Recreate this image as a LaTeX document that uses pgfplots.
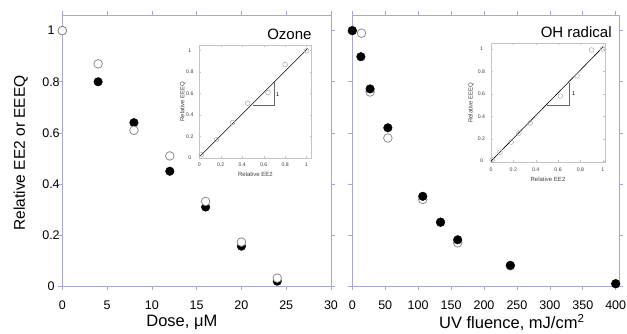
\documentclass[border=0pt]{standalone}
\usepackage{fontspec}
\setmainfont{Liberation Sans}
\usepackage{pgfplots}
\pgfplotsset{compat=1.18}
\definecolor{axc}{HTML}{A8A8D8}
\definecolor{opc}{HTML}{8C8C8C}
\definecolor{inc}{HTML}{C4C4C4}
\definecolor{inm}{HTML}{A8A8A8}
\pgfplotsset{
  mainax/.style={
    scale only axis, height=271pt, clip=false,
    ymin=0, ymax=1.06, ytick={0,0.2,0.4,0.6,0.8,1},
    axis line style={axc, line width=0.6pt},
    tick style={axc, line width=0.6pt},
    major tick length=4pt, tick align=outside, tick pos=both,
    xticklabel pos=lower, yticklabel pos=left,
    /pgf/number format/assume math mode=true,
    ticklabel style={font=\fontsize{12.5}{14}\selectfont, text=black},
    xticklabel style={anchor=center, yshift=-14.7pt},
    yticklabel style={anchor=center, xshift=-7.3pt},
  },
  fil/.style={only marks, mark=*, mark size=4.3pt, mark options={fill=black, draw=black}},
  opn/.style={only marks, mark=*, mark size=4.3pt, mark options={fill=white, draw=opc, line width=0.8pt}},
  inset/.style={
    scale only axis, xmin=0, ymin=0,
    xtick={0,0.2,0.4,0.6,0.8,1}, ytick={0,0.2,0.4,0.6,0.8,1},
    tick align=inside, tick pos=both, xticklabel pos=lower, yticklabel pos=left,
    axis line style={inc, line width=0.5pt},
    tick style={inc, line width=0.4pt}, major tick length=2pt,
    /pgf/number format/assume math mode=true,
    ticklabel style={font=\fontsize{5.2}{6}\selectfont, text=black!75},
    xticklabel style={anchor=center, yshift=-7pt},
    yticklabel style={anchor=center, xshift=-9.5pt},
    label style={font=\fontsize{6}{7}\selectfont, text=black!75},
  },
  imk/.style={only marks, mark=o, mark size=2.4pt, mark options={draw=inm, line width=0.5pt}},
}
\begin{document}
\begin{tikzpicture}
\useasboundingbox (0,0) rectangle (627pt,334pt);
% ---------- left panel: Ozone ----------
\begin{axis}[mainax, at={(62.3pt,47.7pt)}, anchor=south west, width=268.7pt,
  xmin=0, xmax=30, xtick={0,5,10,15,20,25,30},
  xlabel={Dose, μM}, ylabel={Relative EE2 or EEEQ},
  xlabel style={at={(axis description cs:0.445,-0.135)}, anchor=center, font=\fontsize{16.5}{18}\selectfont},
  ylabel style={at={(axis description cs:-0.155,0.492)}, anchor=center, font=\fontsize{15.5}{17}\selectfont}]
\addplot[fil] coordinates {(0,1) (4,0.80) (8,0.64) (12,0.45) (16,0.31) (20,0.157) (24,0.02)};
\addplot[opn] coordinates {(0,1) (4,0.87) (8,0.61) (12,0.51) (16,0.332) (20,0.173) (24,0.032)};
\node[anchor=east, inner sep=0pt, font=\fontsize{15}{17}\selectfont] at (axis description cs:0.928,0.931) {Ozone};
\end{axis}
% ---------- right panel: OH radical ----------
\begin{axis}[mainax, at={(352.3pt,47.7pt)}, anchor=south west, width=266.7pt,
  xmin=0, xmax=405, xtick={0,50,100,150,200,250,300,350,400},
  yticklabels={},
  xlabel={UV fluence, mJ/cm\textsuperscript{2}},
  xlabel style={at={(axis description cs:0.598,-0.135)}, anchor=center, font=\fontsize{16.5}{18}\selectfont}]
\addplot[opn] coordinates {(0,1) (14,0.99) (27,0.76) (54,0.58) (107,0.34) (134,0.25) (160,0.17) (240,0.08) (400,0.01)};
\addplot[fil] coordinates {(0,1) (13,0.898) (27,0.772) (54,0.62) (107,0.352) (134,0.251) (160,0.182) (240,0.082) (400,0.01)};
\node[anchor=east, inner sep=0pt, font=\fontsize{15}{17}\selectfont] at (axis description cs:0.973,0.939) {OH radical};
\end{axis}
% ---------- inset Ozone ----------
\begin{axis}[inset, at={(199.3pt,176pt)}, anchor=south west, width=112.4pt, height=113pt,
  xmax=1.047, ymax=1.053,
  xlabel={Relative EE2}, ylabel={Relative EEEQ},
  xlabel style={at={(axis description cs:0.5,-0.142)}, anchor=center},
  ylabel style={at={(axis description cs:-0.148,0.5)}, anchor=center}]
\addplot[imk] coordinates {(1,1) (0.80,0.87) (0.64,0.61) (0.45,0.51) (0.31,0.33) (0.16,0.17) (0.02,0.03)};
\addplot[black, line width=0.6pt] coordinates {(0.01,0.02) (1.01,1.02)};
\addplot[black!60, line width=0.8pt] coordinates {(0.5,0.49) (0.7,0.49) (0.7,0.71)};
\node[font=\fontsize{5.5}{6}\selectfont, inner sep=0pt] at (axis cs:0.73,0.59) {1};
\end{axis}
% ---------- inset OH ----------
\begin{axis}[inset, at={(491pt,171.7pt)}, anchor=south west, width=114pt, height=119pt,
  xmax=1.02, ymin=-0.01, ymax=1.05,
  xlabel={Relative EE2}, ylabel={Relative EEEQ},
  xlabel style={at={(axis description cs:0.5,-0.141)}, anchor=center},
  ylabel style={at={(axis description cs:-0.175,0.5)}, anchor=center}]
\addplot[imk] coordinates {(1,1) (0.9,0.99) (0.77,0.76) (0.62,0.58) (0.35,0.34) (0.25,0.25) (0.18,0.17) (0.08,0.08) (0.01,0.01)};
\addplot[black, line width=0.6pt] coordinates {(0,0) (1.005,1.02)};
\addplot[black!60, line width=0.8pt] coordinates {(0.5,0.495) (0.705,0.495) (0.705,0.70)};
\node[font=\fontsize{5.5}{6}\selectfont, inner sep=0pt] at (axis cs:0.74,0.6) {1};
\end{axis}
\end{tikzpicture}
\end{document}
